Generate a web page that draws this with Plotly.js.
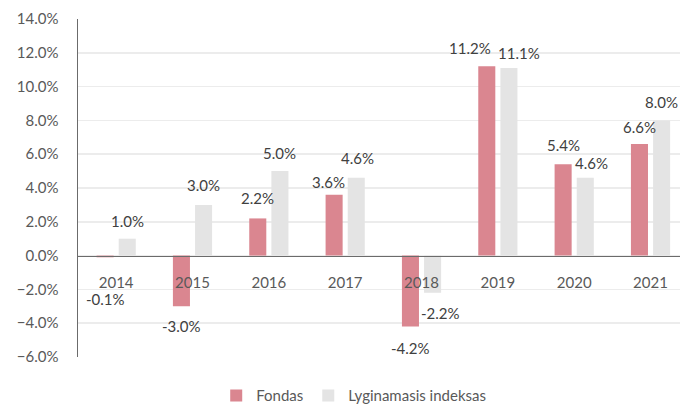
<!DOCTYPE html>
<html>
<head>
<meta charset="utf-8">
<script src="https://cdn.plot.ly/plotly-3.0.1.min.js"></script>
<style>html,body{margin:0;padding:0;background:#fff;}#chart{width:680px;height:405px;}</style>
</head>
<body>
<div id="chart"></div>
<script>
const years = ['2014','2015','2016','2017','2018','2019','2020','2021'];
const fondas = [-0.1, -3.0, 2.2, 3.6, -4.2, 11.2, 5.4, 6.6];
const indeksas = [1.0, 3.0, 5.0, 4.6, -2.2, 11.1, 4.6, 8.0];
const seriesNames = ['Fondas', 'Lyginamasis indeksas'];

// label placement (pixel offsets, not data)
const fondasDx = [0, 0, 0, -6, 0, -17, 0, 0];
const fondasDy = [-42, -20, 20, 13, -21, 18, 19, 17];
const indeksasDx = [0, 0, 0, 1, 8, 10, 6, 0];
const indeksasDy = [18, 20, 18.5, 20, -20, 15, 15, 18];

const FONT = 'Lato, "Open Sans", sans-serif';
const traces = [
  {type:'bar', name:seriesNames[0], x:years, y:fondas, marker:{color:'#DA8690'}},
  {type:'bar', name:seriesNames[1], x:years, y:indeksas, marker:{color:'#E4E4E4'}}
];

const annotations = [];
function addLabels(vals, dx, dy, base){
  vals.forEach((v,i)=>{
    annotations.push({x:i, y:v, xref:'x', yref:'y', text:v.toFixed(1)+'%',
      showarrow:false, xanchor:'center', yanchor:'middle',
      xshift: base + dx[i], yshift: dy[i],
      font:{family:FONT, size:15, color:'#404040'}});
  });
}
addLabels(fondas, fondasDx, fondasDy, -11);
addLabels(indeksas, indeksasDx, indeksasDy, 11);

const layout = {
  width:680, height:405,
  margin:{l:78, r:0, t:19, b:48, autoexpand:false},
  paper_bgcolor:'#ffffff', plot_bgcolor:'#ffffff',
  font:{family:FONT, size:15, color:'#595959'},
  barmode:'group', bargap:0.42, bargroupgap:0.23,
  showlegend:true,
  legend:{orientation:'h', x:0.458, xanchor:'center', y:-0.115, yanchor:'middle',
    font:{family:FONT, size:15, color:'#595959'}, itemwidth:30, tracegroupgap:0},
  xaxis:{type:'category', range:[-0.5, 7.386], anchor:'free', position:0.299,
    showline:true, linecolor:'#6b6b6b', linewidth:1.5, showgrid:false, zeroline:false,
    ticks:'', ticklabelstandoff:13, tickfont:{family:FONT, size:15, color:'#595959'}},
  yaxis:{range:[-6, 14], dtick:2, tick0:0, tickformat:'.1f', ticksuffix:'%',
    showline:true, linecolor:'#6b6b6b', linewidth:1.5, showgrid:true, gridcolor:'#ececec', gridwidth:1.5,
    zeroline:false, ticks:'', ticklabelstandoff:15, tickfont:{family:FONT, size:15, color:'#595959'}},
  annotations: annotations
};
Plotly.newPlot('chart', traces, layout, {displayModeBar:false, staticPlot:true});
</script>
</body>
</html>
